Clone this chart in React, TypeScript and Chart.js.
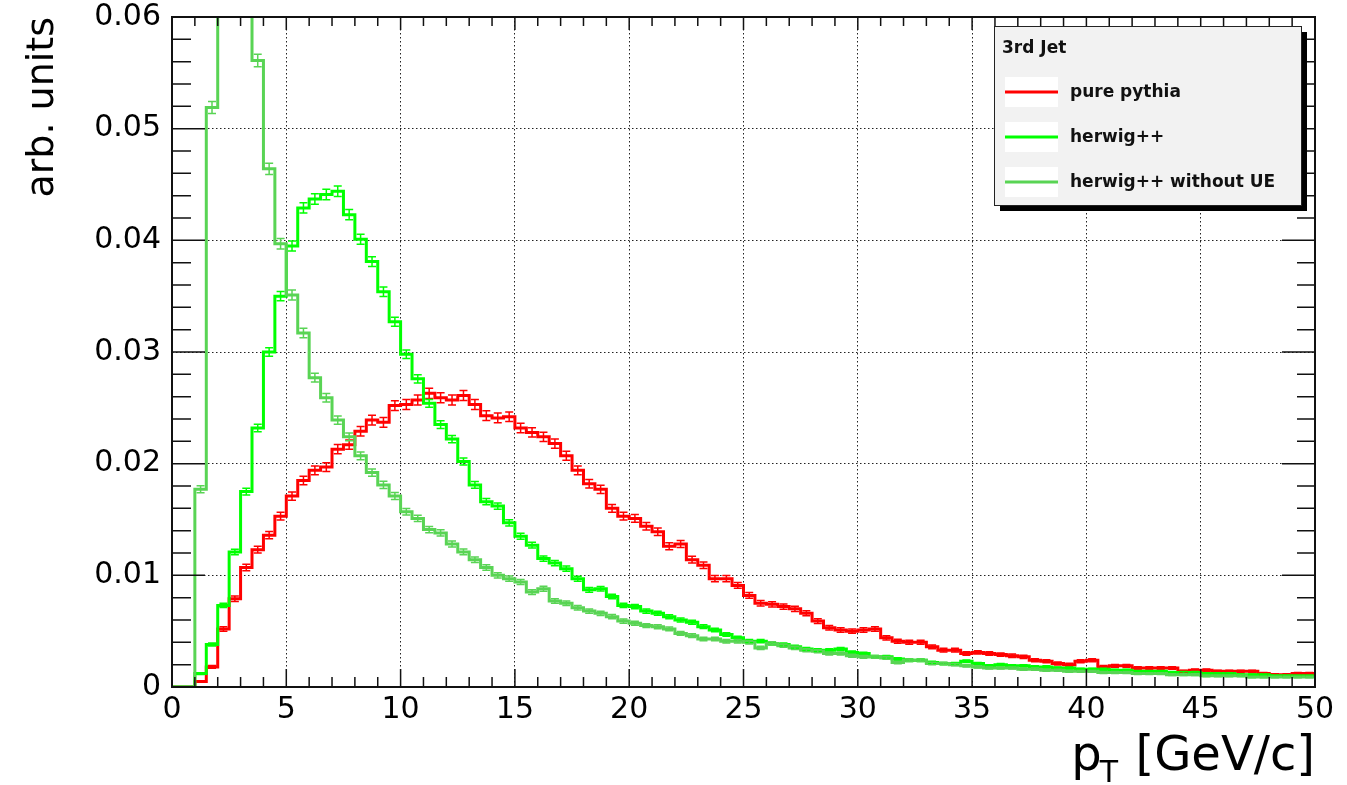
import React, { useEffect, useRef } from "react";
import { Chart, registerables } from "chart.js";

Chart.register(...registerables);

// ---------- data ----------
const BIN_LOW_EDGES = [
  0, 0.5, 1, 1.5, 2, 2.5, 3, 3.5, 4, 4.5, 5, 5.5, 6, 6.5, 7, 7.5, 8, 8.5, 9, 9.5,
  10, 10.5, 11, 11.5, 12, 12.5, 13, 13.5, 14, 14.5, 15, 15.5, 16, 16.5, 17, 17.5, 18, 18.5, 19, 19.5,
  20, 20.5, 21, 21.5, 22, 22.5, 23, 23.5, 24, 24.5, 25, 25.5, 26, 26.5, 27, 27.5, 28, 28.5, 29, 29.5,
  30, 30.5, 31, 31.5, 32, 32.5, 33, 33.5, 34, 34.5, 35, 35.5, 36, 36.5, 37, 37.5, 38, 38.5, 39, 39.5,
  40, 40.5, 41, 41.5, 42, 42.5, 43, 43.5, 44, 44.5, 45, 45.5, 46, 46.5, 47, 47.5, 48, 48.5, 49, 49.5,
];
const BIN_WIDTH = 0.5;
const X_MIN = 0;
const X_MAX = 50;
const Y_MIN = 0;
const Y_MAX = 0.06;

const PURE_PYTHIA = [
  0, 0, 0.0005, 0.0018, 0.0052, 0.0079, 0.0107, 0.0123, 0.0136, 0.0153,
  0.0171, 0.0185, 0.0194, 0.0197, 0.0213, 0.0217, 0.0229, 0.0239, 0.0237, 0.0252,
  0.0253, 0.0257, 0.0263, 0.0259, 0.0257, 0.0261, 0.0253, 0.0243, 0.0241, 0.0242,
  0.0232, 0.0228, 0.0224, 0.0218, 0.0207, 0.0194, 0.0182, 0.0177, 0.016, 0.0153,
  0.0151, 0.0144, 0.0139, 0.0126, 0.0128, 0.0114, 0.0109, 0.0097, 0.0097, 0.0091,
  0.0082, 0.0075, 0.0074, 0.0072, 0.007, 0.0066, 0.0059, 0.0053, 0.0051, 0.005,
  0.0051, 0.0052, 0.0044, 0.0041, 0.004, 0.004, 0.0036, 0.0033, 0.0033, 0.003,
  0.0031, 0.003, 0.0029, 0.0028, 0.0027, 0.0024, 0.0023, 0.0021, 0.002, 0.0023,
  0.0024, 0.0018, 0.0019, 0.0019, 0.0017, 0.0017, 0.0017, 0.0017, 0.0014, 0.0015,
  0.0015, 0.0014, 0.0014, 0.0014, 0.0014, 0.0012, 0.0011, 0.0011, 0.0012, 0.0012,
];

const HERWIG = [
  0, 0, 0.0012, 0.0038, 0.0073, 0.0121, 0.0175, 0.0232, 0.03, 0.035,
  0.0395, 0.0429, 0.0437, 0.0441, 0.0444, 0.0423, 0.0401, 0.0381, 0.0354, 0.0327,
  0.0298, 0.0276, 0.0254, 0.0235, 0.0222, 0.0202, 0.0181, 0.0166, 0.0162, 0.0147,
  0.0135, 0.0127, 0.0115, 0.0111, 0.0106, 0.0097, 0.0087, 0.0088, 0.0081, 0.0073,
  0.0072, 0.0068, 0.0066, 0.0063, 0.006, 0.0058, 0.0054, 0.0051, 0.0047, 0.0044,
  0.0041, 0.0041, 0.0039, 0.0038, 0.0036, 0.0034, 0.0033, 0.0033, 0.0034, 0.0031,
  0.003, 0.0027, 0.0027, 0.0025, 0.0024, 0.0024, 0.0022, 0.0021, 0.0021, 0.0023,
  0.0021, 0.0019, 0.002, 0.0019, 0.0019, 0.0018, 0.0018, 0.0017, 0.0017, 0.0016,
  0.0016, 0.0016, 0.0015, 0.0015, 0.0014, 0.0014, 0.0014, 0.0013, 0.0013, 0.0013,
  0.0012, 0.0012, 0.0012, 0.0011, 0.0011, 0.0011, 0.001, 0.001, 0.001, 0.001,
];

const HERWIG_NO_UE = [
  0, 0, 0.0177, 0.0519, 0.076, 0.082, 0.07, 0.0561, 0.0464, 0.0397,
  0.0351, 0.0317, 0.0277, 0.0259, 0.0239, 0.0224, 0.0207, 0.0192, 0.0181, 0.0171,
  0.0157, 0.0151, 0.0141, 0.0138, 0.0128, 0.0121, 0.0114, 0.0107, 0.01, 0.0097,
  0.0094, 0.0085, 0.0088, 0.0077, 0.0075, 0.0071, 0.0068, 0.0066, 0.0063, 0.0059,
  0.0057, 0.0055, 0.0054, 0.0052, 0.0048, 0.0046, 0.0043, 0.0043, 0.0041, 0.0041,
  0.004, 0.0035, 0.0039, 0.0037, 0.0035, 0.0033, 0.0032, 0.003, 0.003, 0.0028,
  0.0027, 0.0027, 0.0026, 0.0022, 0.0024, 0.0024, 0.0021, 0.0021, 0.002, 0.0019,
  0.0018, 0.0017, 0.0017, 0.0017, 0.0016, 0.0016, 0.0015, 0.0015, 0.0014, 0.0014,
  0.0014, 0.0013, 0.0013, 0.0013, 0.0012, 0.0012, 0.0012, 0.0011, 0.0011, 0.0011,
  0.001, 0.001, 0.001, 0.001, 0.0009, 0.0009, 0.0009, 0.0009, 0.0009, 0.0009,
];

// effective entries used for the statistical error bars (err = sqrt(y / N))
const ENTRIES = [128000, 200000, 180000];

const SERIES_NAMES = ["pure pythia", "herwig++", "herwig++ without UE"];
const SERIES_COLORS = ["#ff0000", "#00ff00", "#59d454"];
const LEGEND_TITLE = "3rd Jet";

const X_TICK_VALUES = [0, 5, 10, 15, 20, 25, 30, 35, 40, 45, 50];
const X_TICK_LABELS = ["0", "5", "10", "15", "20", "25", "30", "35", "40", "45", "50"];
const Y_TICK_VALUES = [0, 0.01, 0.02, 0.03, 0.04, 0.05, 0.06];
const Y_TICK_LABELS = ["0", "0.01", "0.02", "0.03", "0.04", "0.05", "0.06"];
const X_MINOR_STEP = 1;
const Y_MINOR_STEP = 0.002;

const Y_TITLE = "arb. units";
const X_TITLE_MAIN = "p";
const X_TITLE_SUB = "T";
const X_TITLE_REST = " [GeV/c]";

const SERIES = [PURE_PYTHIA, HERWIG, HERWIG_NO_UE];

function stepPoints(values: number[]) {
  const pts = values.map((v, i) => ({ x: BIN_LOW_EDGES[i], y: v }));
  pts.push({ x: X_MAX, y: values[values.length - 1] });
  return pts;
}

const FONT = "'DejaVu Sans', 'Liberation Sans', sans-serif";
const GRID_DASH = [1.5, 2.5];

const errorBarPlugin = {
  id: "errorBars",
  afterDatasetsDraw(chart: any) {
    const { ctx, chartArea: a, scales } = chart;
    const xs = scales.x;
    const ys = scales.y;
    ctx.save();
    ctx.beginPath();
    ctx.rect(a.left, a.top, a.right - a.left, a.bottom - a.top);
    ctx.clip();
    ctx.lineWidth = 1.5;
    SERIES.forEach((vals, si) => {
      ctx.strokeStyle = SERIES_COLORS[si];
      ctx.beginPath();
      vals.forEach((v, i) => {
        if (v <= 0 || v > Y_MAX) return;
        const err = Math.sqrt(v / ENTRIES[si]);
        const cx = xs.getPixelForValue(BIN_LOW_EDGES[i] + BIN_WIDTH / 2);
        const yt = ys.getPixelForValue(v + err);
        const yb = ys.getPixelForValue(Math.max(0, v - err));
        ctx.moveTo(cx, yt);
        ctx.lineTo(cx, yb);
        ctx.moveTo(cx - 4, yt);
        ctx.lineTo(cx + 4, yt);
        ctx.moveTo(cx - 4, yb);
        ctx.lineTo(cx + 4, yb);
      });
      ctx.stroke();
    });
    ctx.restore();
  },
};

const framePlugin = {
  id: "rootFrame",
  afterDatasetsDraw(chart: any) {
    const { ctx, chartArea: a, scales } = chart;
    const xs = scales.x;
    const ys = scales.y;
    ctx.save();
    ctx.strokeStyle = "#111";
    ctx.lineWidth = 1.5;
    ctx.beginPath();
    const nx = Math.round((X_MAX - X_MIN) / X_MINOR_STEP);
    for (let i = 0; i <= nx; i++) {
      const v = X_MIN + i * X_MINOR_STEP;
      const px = xs.getPixelForValue(v);
      const major = X_TICK_VALUES.some((t) => Math.abs(t - v) < 1e-9);
      ctx.moveTo(px, a.bottom);
      ctx.lineTo(px, a.bottom - (major ? 18 : 10));
      ctx.moveTo(px, a.top);
      ctx.lineTo(px, a.top + (major ? 13 : 9));
    }
    const ny = Math.round((Y_MAX - Y_MIN) / Y_MINOR_STEP);
    for (let i = 0; i <= ny; i++) {
      const v = Y_MIN + i * Y_MINOR_STEP;
      const py = ys.getPixelForValue(v);
      const major = Y_TICK_VALUES.some((t) => Math.abs(t - v) < 1e-9);
      ctx.moveTo(a.left, py);
      ctx.lineTo(a.left + (major ? 33 : 19), py);
      ctx.moveTo(a.right, py);
      ctx.lineTo(a.right - (major ? 33 : 18), py);
    }
    ctx.stroke();
    ctx.lineWidth = 2;
    ctx.strokeRect(a.left, a.top, a.right - a.left, a.bottom - a.top);
    ctx.restore();
  },
};

const legendPlugin = {
  id: "rootLegend",
  afterDraw(chart: any) {
    const { ctx, chartArea: a } = chart;
    const w = 307;
    const h = 179;
    const x = a.right - 321;
    const y = a.top + 9;
    ctx.save();
    ctx.fillStyle = "#000";
    ctx.fillRect(x + 6, y + 6, w, h);
    ctx.fillStyle = "#f2f2f2";
    ctx.fillRect(x, y, w, h);
    ctx.strokeStyle = "#222";
    ctx.lineWidth = 1;
    ctx.strokeRect(x + 0.5, y + 0.5, w, h);

    ctx.fillStyle = "#111";
    ctx.font = `bold 17px ${FONT}`;
    ctx.textBaseline = "middle";
    ctx.textAlign = "left";
    ctx.fillText(LEGEND_TITLE, x + 8, y + 23);

    SERIES_NAMES.forEach((name, i) => {
      const cy = y + 66 + i * 45;
      ctx.fillStyle = "#ffffff";
      ctx.fillRect(x + 11, cy - 15, 53, 30);
      ctx.strokeStyle = SERIES_COLORS[i];
      ctx.lineWidth = 3;
      ctx.beginPath();
      ctx.moveTo(x + 11, cy);
      ctx.lineTo(x + 64, cy);
      ctx.stroke();
      ctx.fillStyle = "#111";
      ctx.font = `bold 17px ${FONT}`;
      ctx.fillText(name, x + 76, cy + 1);
    });
    ctx.restore();
  },
};

const xTitlePlugin = {
  id: "xTitle",
  afterDraw(chart: any) {
    const { ctx, chartArea: a } = chart;
    ctx.save();
    ctx.fillStyle = "#000";
    ctx.textBaseline = "alphabetic";
    ctx.textAlign = "left";
    const big = `48px ${FONT}`;
    const small = `30px ${FONT}`;
    ctx.font = big;
    const wMain = ctx.measureText(X_TITLE_MAIN).width;
    const wRest = ctx.measureText(X_TITLE_REST).width;
    ctx.font = small;
    const wSub = ctx.measureText(X_TITLE_SUB).width;
    const baseline = a.bottom + 83;
    let x0 = a.right - (wMain + wSub + wRest);
    ctx.font = big;
    ctx.fillText(X_TITLE_MAIN, x0, baseline);
    x0 += wMain;
    ctx.font = small;
    ctx.fillText(X_TITLE_SUB, x0 - 2, baseline + 12);
    x0 += wSub;
    ctx.font = big;
    ctx.fillText(X_TITLE_REST, x0, baseline);
    ctx.restore();
  },
};

export default function App() {
  const ref = useRef<HTMLCanvasElement | null>(null);

  useEffect(() => {
    if (!ref.current) return;
    const datasets = [2, 1, 0].map((si) => ({
      label: SERIES_NAMES[si],
      data: stepPoints(SERIES[si]),
      borderColor: SERIES_COLORS[si],
      backgroundColor: SERIES_COLORS[si],
      borderWidth: 3,
      pointRadius: 0,
      stepped: "before" as const,
      fill: false,
      tension: 0,
    }));

    const chart = new Chart(ref.current, {
      type: "line",
      data: { datasets },
      plugins: [errorBarPlugin, framePlugin, legendPlugin, xTitlePlugin],
      options: {
        animation: false,
        responsive: false,
        maintainAspectRatio: false,
        layout: { padding: { top: 17, right: 32, left: 0, bottom: 0 } },
        plugins: {
          legend: { display: false },
          tooltip: { enabled: false },
          title: { display: false },
        },
        scales: {
          x: {
            type: "linear",
            min: X_MIN,
            max: X_MAX,
            afterBuildTicks: (scale: any) => {
              scale.ticks = X_TICK_VALUES.map((v) => ({ value: v }));
            },
            afterFit: (scale: any) => {
              scale.height = 98;
              scale.paddingLeft = 0;
              scale.paddingRight = 0;
            },
            ticks: {
              autoSkip: false,
              maxRotation: 0,
              padding: 8,
              color: "#000",
              font: { family: FONT, size: 30, lineHeight: 1 },
              callback: (v: any) => {
                const idx = X_TICK_VALUES.findIndex((t) => Math.abs(t - Number(v)) < 1e-9);
                return idx >= 0 ? X_TICK_LABELS[idx] : "";
              },
            },
            grid: {
              drawTicks: false,
              color: "#222",
              lineWidth: 1,
            },
            border: { display: false, dash: GRID_DASH },
          },
          y: {
            type: "linear",
            min: Y_MIN,
            max: Y_MAX,
            afterBuildTicks: (scale: any) => {
              scale.ticks = Y_TICK_VALUES.map((v) => ({ value: v }));
            },
            afterFit: (scale: any) => {
              scale.width = 172;
              scale.paddingTop = 0;
              scale.paddingBottom = 0;
            },
            ticks: {
              autoSkip: false,
              padding: 11,
              color: "#000",
              font: { family: FONT, size: 30, lineHeight: 1 },
              callback: (v: any) => {
                const idx = Y_TICK_VALUES.findIndex((t) => Math.abs(t - Number(v)) < 1e-9);
                return idx >= 0 ? Y_TICK_LABELS[idx] : "";
              },
            },
            grid: {
              drawTicks: false,
              color: "#222",
              lineWidth: 1,
            },
            border: { display: false, dash: GRID_DASH },
            title: {
              display: true,
              text: Y_TITLE,
              align: "end",
              color: "#000",
              font: { family: FONT, size: 38, lineHeight: 1.2 },
              padding: { top: 20, bottom: 0 },
            },
          },
        },
      },
    });
    return () => chart.destroy();
  }, []);

  return (
    <div
      style={{
        position: "fixed",
        left: 0,
        top: 0,
        width: 1347,
        height: 785,
        background: "#ffffff",
      }}
    >
      <canvas ref={ref} width={1347} height={785} style={{ display: "block" }} />
    </div>
  );
}
